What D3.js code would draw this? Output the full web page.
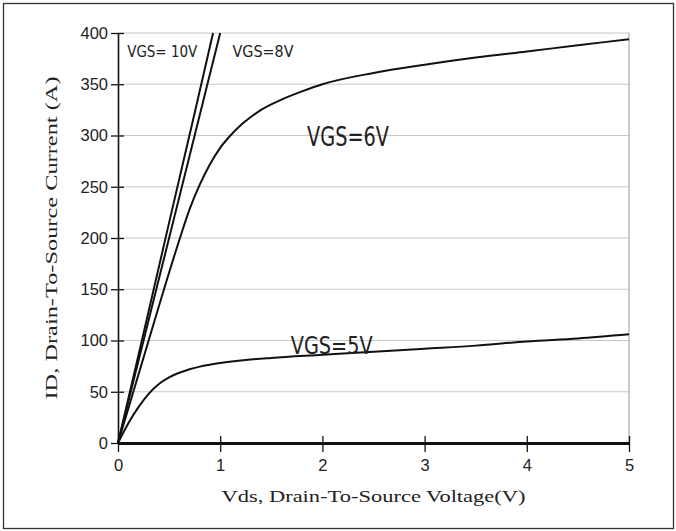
<!DOCTYPE html>
<html>
<head>
<meta charset="utf-8">
<script src="https://cdn.jsdelivr.net/npm/d3@7"></script>
<style>
html,body{margin:0;padding:0;background:#fff;}
svg{display:block;}
</style>
</head>
<body>
<svg id="chart" width="676" height="531"></svg>
<script>
// ---- data ----
const xTicks = [0, 1, 2, 3, 4, 5];
const yTicks = [0, 50, 100, 150, 200, 250, 300, 350, 400];
const vgs10V = [0, 0.25, 0.5, 0.75, 0.93];
const vgs10I = [0, 107, 215, 322, 400];
const vgs8V = [0, 0.25, 0.5, 0.75, 1.0];
const vgs8I = [0, 100, 200, 300, 400];
const vgs6V = [0, 0.15, 0.3, 0.45, 0.6, 0.7, 0.8, 0.9, 1.0, 1.1, 1.2, 1.3, 1.4, 1.6, 1.8, 2.0, 2.5, 3.0, 3.5, 4.0, 4.5, 5.0];
const vgs6I = [0, 50, 100, 150, 198, 228, 252, 272, 288, 300, 310, 318, 325, 335, 343, 350, 361, 369, 376, 382, 388, 394];
const vgs5V = [0, 0.1, 0.2, 0.3, 0.4, 0.5, 0.6, 0.7, 0.8, 1.0, 1.25, 1.5, 2.0, 2.5, 3.0, 3.5, 4.0, 4.5, 5.0];
const vgs5I = [0, 19, 35, 48, 57.5, 64, 68.5, 72, 74.5, 78, 81, 83, 86, 89, 92, 95, 99, 102, 106];
const curveLabels = ["VGS= 10V", "VGS=8V", "VGS=6V", "VGS=5V"];
const labelPos = [[0.09, 377, 70, 16], [1.12, 377, 61, 16], [1.85, 290, 82, 26], [1.69, 87, 82, 25]]; // [V, I, width, fontsize]
const xTitle = "Vds, Drain-To-Source Voltage(V)";
const yTitle = "ID, Drain-To-Source Current (A)";

// ---- layout ----
const svg = d3.select("#chart");
const L = 118, R = 629, T = 33, B = 443;
const x = d3.scaleLinear().domain([0, 5]).range([L, R]);
const y = d3.scaleLinear().domain([0, 400]).range([B, T]);

// outer frame
svg.append("rect").attr("x", 3.5).attr("y", 3.5).attr("width", 670).attr("height", 525)
  .attr("fill", "none").attr("stroke", "#333").attr("stroke-width", 1.3);

// gridlines
svg.append("g").selectAll("line").data(yTicks.filter(d => d > 0)).join("line")
  .attr("x1", L).attr("x2", R).attr("y1", d => y(d)).attr("y2", d => y(d))
  .attr("stroke", "#c8c8c8").attr("stroke-width", 1.2);
// right border
svg.append("line").attr("x1", R).attr("x2", R).attr("y1", T).attr("y2", B)
  .attr("stroke", "#aaa").attr("stroke-width", 1.2);

// curves
const series = [[vgs10V, vgs10I], [vgs8V, vgs8I], [vgs6V, vgs6I], [vgs5V, vgs5I]];
const line = d3.line().x(d => x(d[0])).y(d => y(d[1])).curve(d3.curveMonotoneX);
svg.append("g").selectAll("path").data(series).join("path")
  .attr("d", s => line(s[0].map((v, i) => [v, s[1][i]])))
  .attr("fill", "none").attr("stroke", "#111").attr("stroke-width", 2);

// axes
const yAxis = d3.axisLeft(y).tickValues(yTicks).tickSize(0).tickPadding(10);
const gy = svg.append("g").attr("transform", `translate(${L},0)`).call(yAxis);
gy.select(".domain").attr("stroke", "#111").attr("stroke-width", 1.6);
gy.selectAll(".tick").append("line").attr("x1", -7).attr("x2", 6).attr("stroke", "#111").attr("stroke-width", 1.3);
gy.selectAll("text").attr("font-family", "Liberation Sans, Arial, sans-serif").attr("font-size", 16.5).attr("fill", "#222");

const xAxis = d3.axisBottom(x).tickValues(xTicks).tickFormat(d3.format("d")).tickSize(0).tickPadding(16);
const gx = svg.append("g").attr("transform", `translate(0,${B})`).call(xAxis);
gx.select(".domain").attr("stroke", "#111").attr("stroke-width", 3.2);
gx.selectAll(".tick").append("line").attr("y1", -7).attr("y2", 9).attr("stroke", "#111").attr("stroke-width", 1.3);
gx.selectAll("text").attr("font-family", "Liberation Sans, Arial, sans-serif").attr("font-size", 16.5).attr("fill", "#222");

// curve labels
svg.append("g").selectAll("text").data(curveLabels).join("text")
  .attr("x", (d, i) => x(labelPos[i][0]))
  .attr("y", (d, i) => y(labelPos[i][1]))
  .attr("font-family", "DejaVu Sans, sans-serif")
  .attr("font-size", (d, i) => labelPos[i][3])
  .attr("textLength", (d, i) => labelPos[i][2])
  .attr("lengthAdjust", "spacingAndGlyphs")
  .attr("fill", "#222")
  .text(d => d);

// axis titles
svg.append("text").attr("x", (L + R) / 2).attr("y", 502).attr("text-anchor", "middle")
  .attr("font-family", "Liberation Serif, serif").attr("font-size", 17)
  .attr("textLength", 304).attr("lengthAdjust", "spacingAndGlyphs")
  .attr("fill", "#222").text(xTitle);
svg.append("text").attr("transform", `translate(57,${(T + B) / 2}) rotate(-90)`)
  .attr("text-anchor", "middle")
  .attr("font-family", "Liberation Serif, serif").attr("font-size", 17)
  .attr("textLength", 323).attr("lengthAdjust", "spacingAndGlyphs")
  .attr("fill", "#222").text(yTitle);
</script>
</body>
</html>
